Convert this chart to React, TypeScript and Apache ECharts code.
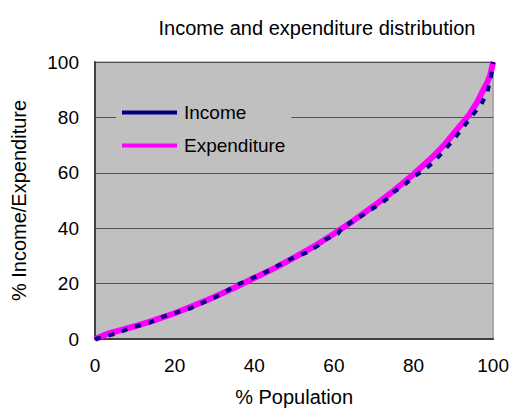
import React, { useEffect, useRef } from "react";
import * as echarts from "echarts";

const incomeX = [0, 2, 4, 6, 9, 13, 17, 21, 24, 28, 32, 35.5, 38, 42, 46, 50, 53, 56, 58, 61, 62, 65, 67, 69, 72, 74, 75, 78, 80, 83, 85, 88, 89.5, 91, 92.7, 95, 97, 98.6, 99.5, 100];
const incomeY = [0, 0.6, 1.5, 2.2, 4.2, 5.4, 8.0, 9.8, 11.1, 13.7, 16.3, 19.5, 21, 23.5, 26.5, 29.5, 31.1, 33.7, 36, 38, 40, 42.8, 44.5, 46.4, 49.2, 51.3, 53, 56, 58.5, 61.4, 63.8, 68.6, 71, 73.7, 76.9, 81.1, 84.6, 89.4, 95, 100];

const expX = [0, 3, 6, 10, 15, 20, 25, 30, 35, 40, 45, 50, 55, 60, 65, 70, 75, 80, 85, 88, 90, 92, 94, 96, 97.2, 98.5, 99.3, 100];
const expY = [0, 1.8, 3, 4.6, 6.8, 9.3, 12.2, 15.2, 18.5, 22, 25.5, 29.4, 33.4, 38, 42.8, 48, 53.5, 59.5, 66, 70.5, 74, 77.5, 81, 85.5, 89, 92.5, 95.5, 100];

const title = "Income and expenditure distribution";
const xName = "% Population";
const yName = "% Income/Expenditure";
const seriesNames = ["Income", "Expenditure"];

const FONT = "Liberation Sans, Arial, sans-serif";

export default function App() {
  const ref = useRef<HTMLDivElement>(null);
  useEffect(() => {
    if (!ref.current) return;
    const chart = echarts.init(ref.current, null, { renderer: "svg" });
    chart.setOption({
      animation: false,
      backgroundColor: "#ffffff",
      title: {
        text: title,
        left: 312,
        top: 13,
        textAlign: "center",
        textStyle: { fontFamily: FONT, fontSize: 20, fontWeight: "normal", color: "#000" },
      },
      legend: {
        orient: "vertical",
        left: 116,
        top: 99,
        data: seriesNames,
        icon: "rect",
        itemWidth: 55,
        itemHeight: 4,
        itemGap: 14,
        backgroundColor: "#c0c0c0",
        padding: [4, 6, 4, 6],
        textStyle: { fontFamily: FONT, fontSize: 19, color: "#000", padding: [0, 0, 0, 2] },
      },
      grid: {
        left: 95,
        right: 18,
        top: 62,
        bottom: 70,
        show: true,
        backgroundColor: "#c0c0c0",
        borderColor: "#808080",
        borderWidth: 1,
      },
      xAxis: {
        type: "value",
        min: 0,
        max: 100,
        interval: 20,
        name: xName,
        nameLocation: "middle",
        nameGap: 48,
        nameTextStyle: { fontFamily: FONT, fontSize: 20, color: "#000" },
        axisLine: { show: true, lineStyle: { color: "#404040", width: 2 } },
        axisTick: { show: false },
        splitLine: { show: false },
        axisLabel: { fontFamily: FONT, fontSize: 19, color: "#000", margin: 17 },
      },
      yAxis: {
        type: "value",
        min: 0,
        max: 100,
        interval: 20,
        name: yName,
        nameLocation: "middle",
        nameGap: 66,
        nameRotate: 90,
        nameTextStyle: { fontFamily: FONT, fontSize: 20, color: "#000" },
        axisLine: { show: true, lineStyle: { color: "#404040", width: 2 } },
        axisTick: { show: false },
        splitLine: { show: true, lineStyle: { color: "#505050", width: 1 } },
        axisLabel: { fontFamily: FONT, fontSize: 19, color: "#000", margin: 16 },
      },
      series: [
        {
          name: "Income",
          type: "line",
          data: incomeX.map((x, i) => [x, incomeY[i]]),
          showSymbol: false,
          z: 3,
          lineStyle: { color: "#000080", width: 4, type: [6, 8] },
          itemStyle: { color: "#000080" },
        },
        {
          name: "Expenditure",
          type: "line",
          data: expX.map((x, i) => [x, expY[i]]),
          showSymbol: false,
          z: 2,
          lineStyle: { color: "#ff00ff", width: 6 },
          itemStyle: { color: "#ff00ff" },
        },
      ],
    });
    return () => chart.dispose();
  }, []);
  return <div ref={ref} style={{ width: 512, height: 412, position: "absolute", left: 0, top: 0 }} />;
}
